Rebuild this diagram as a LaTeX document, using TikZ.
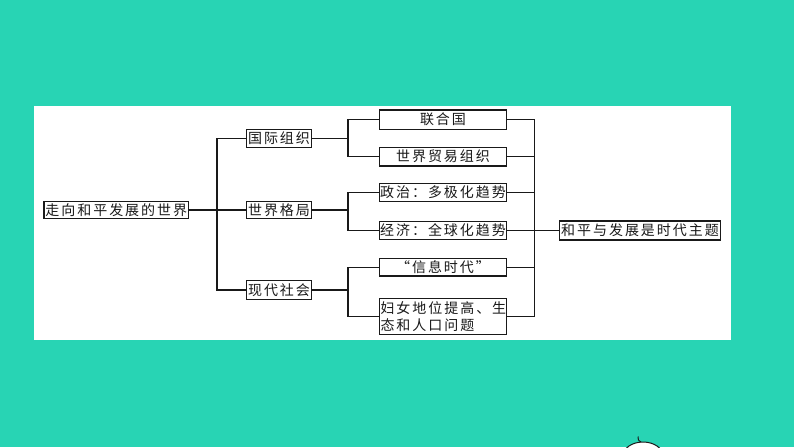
\documentclass[tikz,border=0pt]{standalone}
\usepackage{fontspec}
\newfontfamily\cjk[LetterSpace=14]{Noto Sans CJK SC}
\definecolor{teal}{RGB}{40,212,180}
\definecolor{ink}{RGB}{25,25,25}
\begin{document}
\begin{tikzpicture}[x=1pt,y=-1pt,
  box/.style={draw=ink,line width=1.2pt,inner sep=0pt,text=ink,
    font=\cjk\fontsize{14}{18}\selectfont},
  link/.style={draw=ink,line width=1.3pt}]
\useasboundingbox (0,0) rectangle (794,447);
\clip (0,0) rectangle (794,447);
\fill[teal] (0,0) rectangle (794,447);
\fill[white] (34,106) rectangle (731,340);
% level 0
\node[box,minimum width=144.7pt,minimum height=17.6pt] (root) at (116.3,210) {走向和平发展的世界};
% level 1
\node[box,minimum width=65.7pt,minimum height=18pt] (gj) at (279,138.3) {国际组织};
\node[box,minimum width=65.7pt,minimum height=17.6pt] (sj) at (279,210) {世界格局};
\node[box,minimum width=65.7pt,minimum height=18.3pt] (xd) at (279,290) {现代社会};
% level 2
\node[box,minimum width=127.4pt,minimum height=19.3pt] (lhg) at (443,119.7) {联合国};
\node[box,minimum width=127.4pt,minimum height=18.7pt] (my) at (443,156.7) {世界贸易组织};
\node[box,minimum width=127.4pt,minimum height=18.4pt] (zz) at (443,192.5) {政治：多极化趋势};
\node[box,minimum width=127.4pt,minimum height=18.5pt] (jj) at (443,230.4) {经济：全球化趋势};
\node[box,minimum width=127.4pt,minimum height=17.7pt] (xx) at (443,267.2) {“信息时代”};
\node[box,minimum width=127.4pt,minimum height=36pt,text width=125pt,align=left,
  font=\cjk\fontsize{14}{17}\selectfont] (fn) at (443,316.3) {妇女地位提高、生\\态和人口问题};
% result
\node[box,minimum width=161.4pt,minimum height=19pt] (hp) at (640,230.4) {和平与发展是时代主题};
% connectors
\coordinate (b0) at (217,0);
\coordinate (b1) at (348,0);
\coordinate (b2) at (534.3,0);
\draw[link] (root.east) -- (sj.west);
\draw[link] (gj.west) -- (gj.west -| b0) -- (xd.west -| b0) -- (xd.west);
\draw[link] (gj.east) -- (gj.east -| b1);
\draw[link] (lhg.west) -- (lhg.west -| b1) -- (my.west -| b1) -- (my.west);
\draw[link] (sj.east) -- (sj.east -| b1);
\draw[link] (zz.west) -- (zz.west -| b1) -- (jj.west -| b1) -- (jj.west);
\draw[link] (xd.east) -- (xd.east -| b1);
\draw[link] (xx.west) -- (xx.west -| b1) -- (fn.west -| b1) -- (fn.west);
\draw[link] (lhg.east) -- (lhg.east -| b2) -- (fn.east -| b2) -- (fn.east);
\draw[link] (my.east) -- (my.east -| b2);
\draw[link] (zz.east) -- (zz.east -| b2);
\draw[link] (jj.east) -- (jj.east -| b2);
\draw[link] (xx.east) -- (xx.east -| b2);
\draw[link] (b2 |- hp.west) -- (hp.west);
% decoration at bottom
\draw[fill=white,draw=ink,line width=1pt] (643,456) ellipse [x radius=20, y radius=14];
\draw[ink,line width=1pt] (641,442) .. controls (638,440) .. (638,436.5);
\end{tikzpicture}
\end{document}
